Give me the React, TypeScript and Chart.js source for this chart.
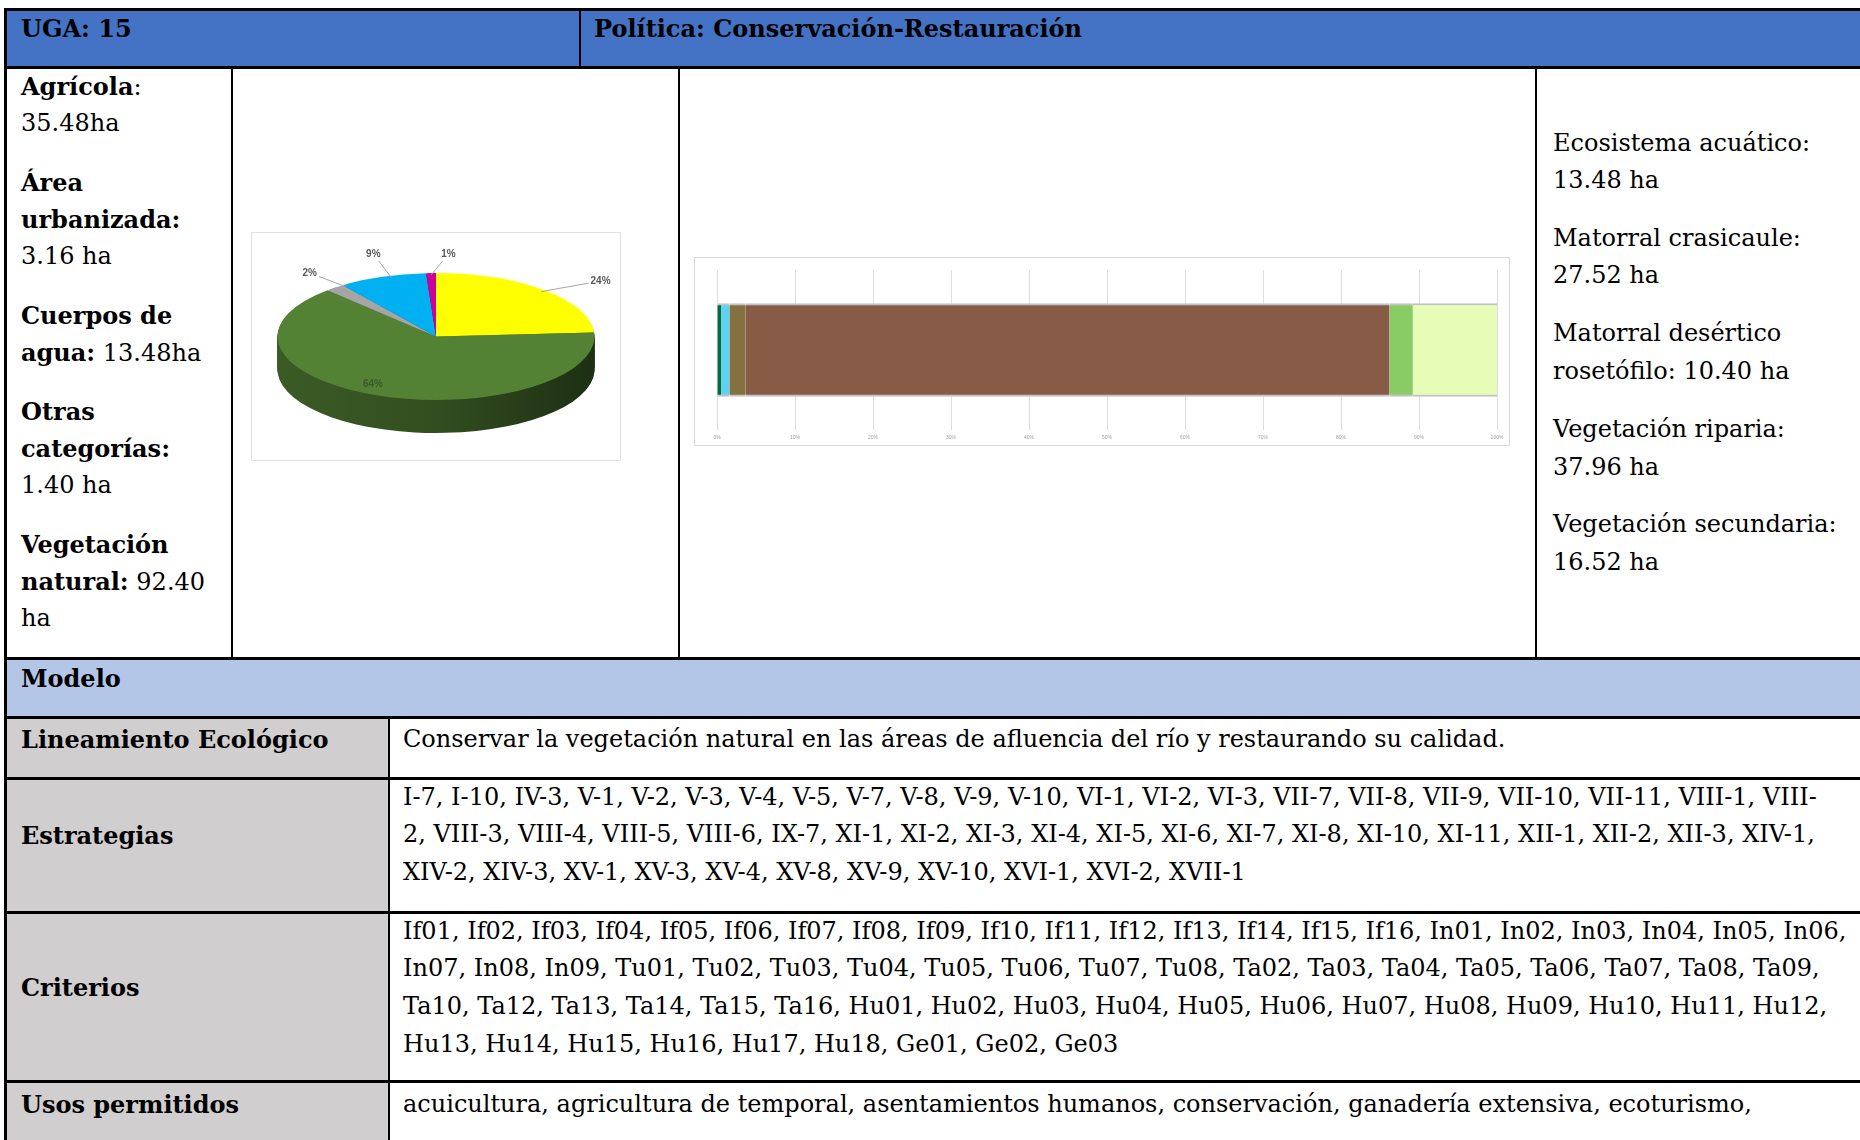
import React, { useEffect, useRef } from 'react';
import { Chart, registerables } from 'chart.js';

Chart.register(...registerables);

// ---------------- DATA ----------------
// Pie: land-use shares (percent labels)
const pieCategories = ['Agrícola', 'Vegetación natural', 'Área urbanizada', 'Cuerpos de agua', 'Otras categorías'];
const pieValues = [24, 64, 2, 9, 1];
const pieColors = ['#FFFF00', '#548235', '#A5A5A5', '#00B0F0', '#CC0099'];

// Stacked 100% bar: vegetation composition (percent of total)
const barCategories = ['UGA 15'];
const barSeriesNames = ['Bosque', 'Ecosistema acuático', 'Matorral desértico rosetófilo', 'Vegetación riparia', 'Vegetación secundaria', 'Matorral crasicaule'];
const barValues = [0.52, 1.07, 2.08, 82.53, 3.0, 10.8];
const barColors = ['#006B3C', '#5DD3F3', '#85703F', '#875B45', '#89CC66', '#E6FCB7'];
const barTickValues = [0, 10, 20, 30, 40, 50, 60, 70, 80, 90, 100];

// Lower table texts
const estrategiasLines = [
  'I-7, I-10, IV-3, V-1, V-2, V-3, V-4, V-5, V-7, V-8, V-9, V-10, VI-1, VI-2, VI-3, VII-7, VII-8, VII-9, VII-10, VII-11, VIII-1, VIII-',
  '2, VIII-3, VIII-4, VIII-5, VIII-6, IX-7, XI-1, XI-2, XI-3, XI-4, XI-5, XI-6, XI-7, XI-8, XI-10, XI-11, XII-1, XII-2, XII-3, XIV-1,',
  'XIV-2, XIV-3, XV-1, XV-3, XV-4, XV-8, XV-9, XV-10, XVI-1, XVI-2, XVII-1',
];
const criteriosLines = [
  'If01, If02, If03, If04, If05, If06, If07, If08, If09, If10, If11, If12, If13, If14, If15, If16, In01, In02, In03, In04, In05, In06,',
  'In07, In08, In09, Tu01, Tu02, Tu03, Tu04, Tu05, Tu06, Tu07, Tu08, Ta02, Ta03, Ta04, Ta05, Ta06, Ta07, Ta08, Ta09,',
  'Ta10, Ta12, Ta13, Ta14, Ta15, Ta16, Hu01, Hu02, Hu03, Hu04, Hu05, Hu06, Hu07, Hu08, Hu09, Hu10, Hu11, Hu12,',
  'Hu13, Hu14, Hu15, Hu16, Hu17, Hu18, Ge01, Ge02, Ge03',
];

// ---------------- STYLE ----------------
const FONT = "'DejaVu Serif', serif";
const FS = 24;
const LH = 37;

// pie geometry (relative to pie canvas)
const PIE_W = 370;
const PIE_H = 229;
const PIE_RX = 158.5;
const PIE_RY = 63.5;
const PIE_CY = 104.5;
const PIE_DEPTH = 33;
// label placement: anchor position within slice (0..1) and label offset from anchor
const pieLabelStyle: Array<{ at?: number; dx: number; dy: number; inside?: number; color: string }> = [
  { at: 0.5, dx: 59.3, dy: -10.6, color: '#595959' },
  { inside: 0.72, dx: -21, dy: 5, color: '#3b5a2a' },
  { at: 1.0, dx: -36, dy: -13.7, color: '#595959' },
  { at: 0.59, dx: -18, dy: -23.6, color: '#595959' },
  { at: 0.5, dx: 17.3, dy: -21, color: '#595959' },
];

function shade(hex: string, f: number) {
  const n = parseInt(hex.slice(1), 16);
  const r = Math.round(((n >> 16) & 255) * f);
  const g = Math.round(((n >> 8) & 255) * f);
  const b = Math.round((n & 255) * f);
  return `rgb(${r},${g},${b})`;
}

const pie3dPlugin = {
  id: 'pie3d',
  beforeDatasetsDraw(chart: any) {
    const meta = chart.getDatasetMeta(0);
    const arcs = meta.data;
    if (!arcs.length) return;
    const ctx = chart.ctx as CanvasRenderingContext2D;
    const { x, y, outerRadius } = arcs[0].getProps(['x', 'y', 'outerRadius'], true);
    const k = PIE_RY / outerRadius;
    for (let d = PIE_DEPTH; d >= 1; d--) {
      arcs.forEach((arc: any, i: number) => {
        const p = arc.getProps(['startAngle', 'endAngle', 'outerRadius'], true);
        ctx.save();
        ctx.translate(x, PIE_CY + d);
        ctx.scale(1, k);
        const g = ctx.createLinearGradient(-p.outerRadius, 0, p.outerRadius, 0);
        const c = pieColors[i];
        g.addColorStop(0, shade(c, 0.7));
        g.addColorStop(0.5, shade(c, 0.6));
        g.addColorStop(1, shade(c, 0.36));
        ctx.beginPath();
        ctx.moveTo(0, 0);
        ctx.arc(0, 0, p.outerRadius, p.startAngle, p.endAngle);
        ctx.closePath();
        ctx.fillStyle = g;
        ctx.fill();
        ctx.restore();
      });
    }
    ctx.save();
    ctx.translate(x, PIE_CY);
    ctx.scale(1, k);
    ctx.translate(-x, -y);
  },
  afterDatasetsDraw(chart: any) {
    const ctx = chart.ctx as CanvasRenderingContext2D;
    ctx.restore();
    const meta = chart.getDatasetMeta(0);
    const arcs = meta.data;
    const values = chart.data.datasets[0].data as number[];
    const total = values.reduce((a, b) => a + b, 0);
    ctx.save();
    ctx.font = "bold 10px 'Liberation Sans', Arial, sans-serif";
    ctx.textAlign = 'center';
    ctx.textBaseline = 'middle';
    arcs.forEach((arc: any, i: number) => {
      const p = arc.getProps(['x', 'startAngle', 'endAngle', 'outerRadius'], true);
      const st = pieLabelStyle[i];
      const text = Math.round((values[i] / total) * 100) + '%';
      if (st.inside) {
        const mid = (p.startAngle + p.endAngle) / 2;
        const lx = p.x + PIE_RX * st.inside * Math.cos(mid) + st.dx;
        const ly = PIE_CY + PIE_RY * st.inside * Math.sin(mid) + st.dy;
        ctx.fillStyle = st.color;
        ctx.fillText(text, lx, ly);
        return;
      }
      const ang = p.startAngle + (p.endAngle - p.startAngle) * (st.at ?? 0.5);
      const ax = p.x + PIE_RX * 0.97 * Math.cos(ang);
      const ay = PIE_CY + PIE_RY * 0.97 * Math.sin(ang);
      const lx = ax + st.dx;
      const ly = ay + st.dy;
      const w = ctx.measureText(text).width;
      const dx = ax - lx;
      const dy = ay - ly;
      const t = Math.min(Math.abs(dx) > 0.01 ? (w / 2 + 2) / Math.abs(dx) : 99, Math.abs(dy) > 0.01 ? 7 / Math.abs(dy) : 99);
      ctx.strokeStyle = '#a6a6a6';
      ctx.lineWidth = 1;
      ctx.beginPath();
      ctx.moveTo(ax, ay);
      ctx.lineTo(lx + dx * t, ly + dy * t);
      ctx.stroke();
      ctx.fillStyle = st.color;
      ctx.fillText(text, lx, ly);
    });
    ctx.restore();
  },
};

function PieChart() {
  const ref = useRef<HTMLCanvasElement>(null);
  useEffect(() => {
    const chart = new Chart(ref.current as HTMLCanvasElement, {
      type: 'pie',
      data: {
        labels: pieCategories,
        datasets: [
          {
            data: pieValues,
            backgroundColor: pieColors,
            borderWidth: 0,
            clip: false,
          } as any,
        ],
      },
      options: {
        animation: false,
        responsive: false,
        devicePixelRatio: 1,
        radius: PIE_RX,
        events: [],
        plugins: { legend: { display: false }, tooltip: { enabled: false } },
      } as any,
      plugins: [pie3dPlugin],
    });
    return () => chart.destroy();
  }, []);
  return <canvas ref={ref} width={PIE_W} height={PIE_H} style={{ display: 'block', width: PIE_W, height: PIE_H }} />;
}

function BarChart() {
  const ref = useRef<HTMLCanvasElement>(null);
  useEffect(() => {
    const chart = new Chart(ref.current as HTMLCanvasElement, {
      type: 'bar',
      data: {
        labels: barCategories,
        datasets: barValues.map((v, i) => ({
          label: barSeriesNames[i],
          data: [v],
          backgroundColor: barColors[i],
          borderColor: '#c2c2c2',
          borderWidth: { top: 2, bottom: 2, left: 0, right: 0 },
          borderSkipped: false,
          barThickness: 93,
        })),
      },
      options: {
        animation: false,
        responsive: false,
        devicePixelRatio: 1,
        indexAxis: 'y',
        events: [],
        layout: { padding: { left: 22, right: 12, top: 12, bottom: 3 } },
        plugins: { legend: { display: false }, tooltip: { enabled: false } },
        scales: {
          x: {
            stacked: true,
            min: 0,
            max: 100,
            afterBuildTicks: (s: any) => {
              s.ticks = barTickValues.map((v) => ({ value: v }));
            },
            afterFit: (s: any) => {
              s.height = 12;
            },
            ticks: {
              callback: (v: any) => v + '%',
              font: { size: 5, family: "'Liberation Sans', sans-serif" },
              color: '#a0a0a0',
              padding: 5,
              maxRotation: 0,
              autoSkip: false,
            },
            grid: { color: '#dedede', drawTicks: false },
            border: { display: false },
          },
          y: { stacked: true, display: false },
        },
      } as any,
    });
    return () => chart.destroy();
  }, []);
  return <canvas ref={ref} width={814} height={187} style={{ display: 'block', width: 814, height: 187 }} />;
}

function Line(props: { x: number; cy: number; bold?: boolean; children: React.ReactNode }) {
  return (
    <div
      style={{
        position: 'absolute',
        left: props.x,
        top: props.cy - LH / 2,
        height: LH,
        lineHeight: LH + 'px',
        fontSize: FS,
        fontFamily: FONT,
        fontWeight: props.bold ? 700 : 400,
        whiteSpace: 'nowrap',
        color: '#000',
      }}
    >
      {props.children}
    </div>
  );
}

function Rect(props: { x: number; y: number; w: number; h: number; c: string }) {
  return (
    <div
      style={{
        position: 'absolute',
        left: props.x,
        top: props.y,
        width: props.w,
        height: props.h,
        background: props.c,
      }}
    />
  );
}

export default function App() {
  const B = '#000';
  return (
    <div
      style={{
        position: 'absolute',
        left: 0,
        top: 0,
        width: 1860,
        height: 1140,
        overflow: 'hidden',
        background: '#fff',
      }}
    >
      {/* fills */}
      <Rect x={5} y={8} w={1855} h={60} c="#4472C4" />
      <Rect x={5} y={657} w={1855} h={61} c="#B4C6E7" />
      <Rect x={5} y={716} w={384} h={424} c="#D0CECE" />

      {/* horizontal lines */}
      {[8, 66, 657, 716, 777, 911, 1080].map((y) => (
        <Rect key={y} x={5} y={y} w={1855} h={3} c={B} />
      ))}
      {/* vertical lines */}
      <Rect x={4} y={8} w={3} h={1132} c={B} />
      <Rect x={579} y={8} w={2} h={60} c={B} />
      <Rect x={231} y={66} w={2} h={593} c={B} />
      <Rect x={678} y={66} w={2} h={593} c={B} />
      <Rect x={1535} y={66} w={2} h={593} c={B} />
      <Rect x={388} y={716} w={2} h={424} c={B} />

      {/* header */}
      <Line x={21} cy={28.5} bold>UGA: 15</Line>
      <Line x={594} cy={28.5} bold>Política: Conservación-Restauración</Line>

      {/* left column */}
      <Line x={21} cy={86.6}><b>Agrícola</b>:</Line>
      <Line x={21} cy={123.4}>35.48ha</Line>
      <Line x={21} cy={182.7} bold>Área</Line>
      <Line x={21} cy={219.4} bold>urbanizada:</Line>
      <Line x={21} cy={256.2}>3.16 ha</Line>
      <Line x={21} cy={315.5} bold>Cuerpos de</Line>
      <Line x={21} cy={352.3}><b>agua:</b> 13.48ha</Line>
      <Line x={21} cy={411.6} bold>Otras</Line>
      <Line x={21} cy={448.4} bold>categorías:</Line>
      <Line x={21} cy={485.2}>1.40 ha</Line>
      <Line x={21} cy={544.5} bold>Vegetación</Line>
      <Line x={21} cy={581.2}><b>natural:</b> 92.40</Line>
      <Line x={21} cy={618}>ha</Line>

      {/* pie chart */}
      <div style={{ position: 'absolute', left: 251, top: 232, width: 370, height: 229, border: '1px solid #e0e0e0', boxSizing: 'border-box' }} />
      <div style={{ position: 'absolute', left: 251, top: 232 }}>
        <PieChart />
      </div>

      {/* bar chart */}
      <div style={{ position: 'absolute', left: 694, top: 257, width: 816, height: 189, border: '1px solid #d9d9d9', boxSizing: 'border-box' }}>
        <BarChart />
      </div>

      {/* right column */}
      <Line x={1553} cy={143.5}>Ecosistema acuático:</Line>
      <Line x={1553} cy={180.3}>13.48 ha</Line>
      <Line x={1553} cy={238.4}>Matorral crasicaule:</Line>
      <Line x={1553} cy={275.2}>27.52 ha</Line>
      <Line x={1553} cy={333.3}>Matorral desértico</Line>
      <Line x={1553} cy={371.3}>rosetófilo: 10.40 ha</Line>
      <Line x={1553} cy={429.4}>Vegetación riparia:</Line>
      <Line x={1553} cy={467.4}>37.96 ha</Line>
      <Line x={1553} cy={524.3}>Vegetación secundaria:</Line>
      <Line x={1553} cy={562.3}>16.52 ha</Line>

      {/* lower table */}
      <Line x={21} cy={678.5} bold>Modelo</Line>
      <Line x={21} cy={739} bold>Lineamiento Ecológico</Line>
      <Line x={403} cy={739}>Conservar la vegetación natural en las áreas de afluencia del río y restaurando su calidad.</Line>

      <Line x={21} cy={835} bold>Estrategias</Line>
      {estrategiasLines.map((t, i) => (
        <Line key={'e' + i} x={403} cy={797 + i * 37.5}>{t}</Line>
      ))}

      <Line x={21} cy={987} bold>Criterios</Line>
      {criteriosLines.map((t, i) => (
        <Line key={'c' + i} x={403} cy={931 + i * 37.7}>{t}</Line>
      ))}

      <Line x={21} cy={1104} bold>Usos permitidos</Line>
      <Line x={403} cy={1104}>acuicultura, agricultura de temporal, asentamientos humanos, conservación, ganadería extensiva, ecoturismo,</Line>
    </div>
  );
}
